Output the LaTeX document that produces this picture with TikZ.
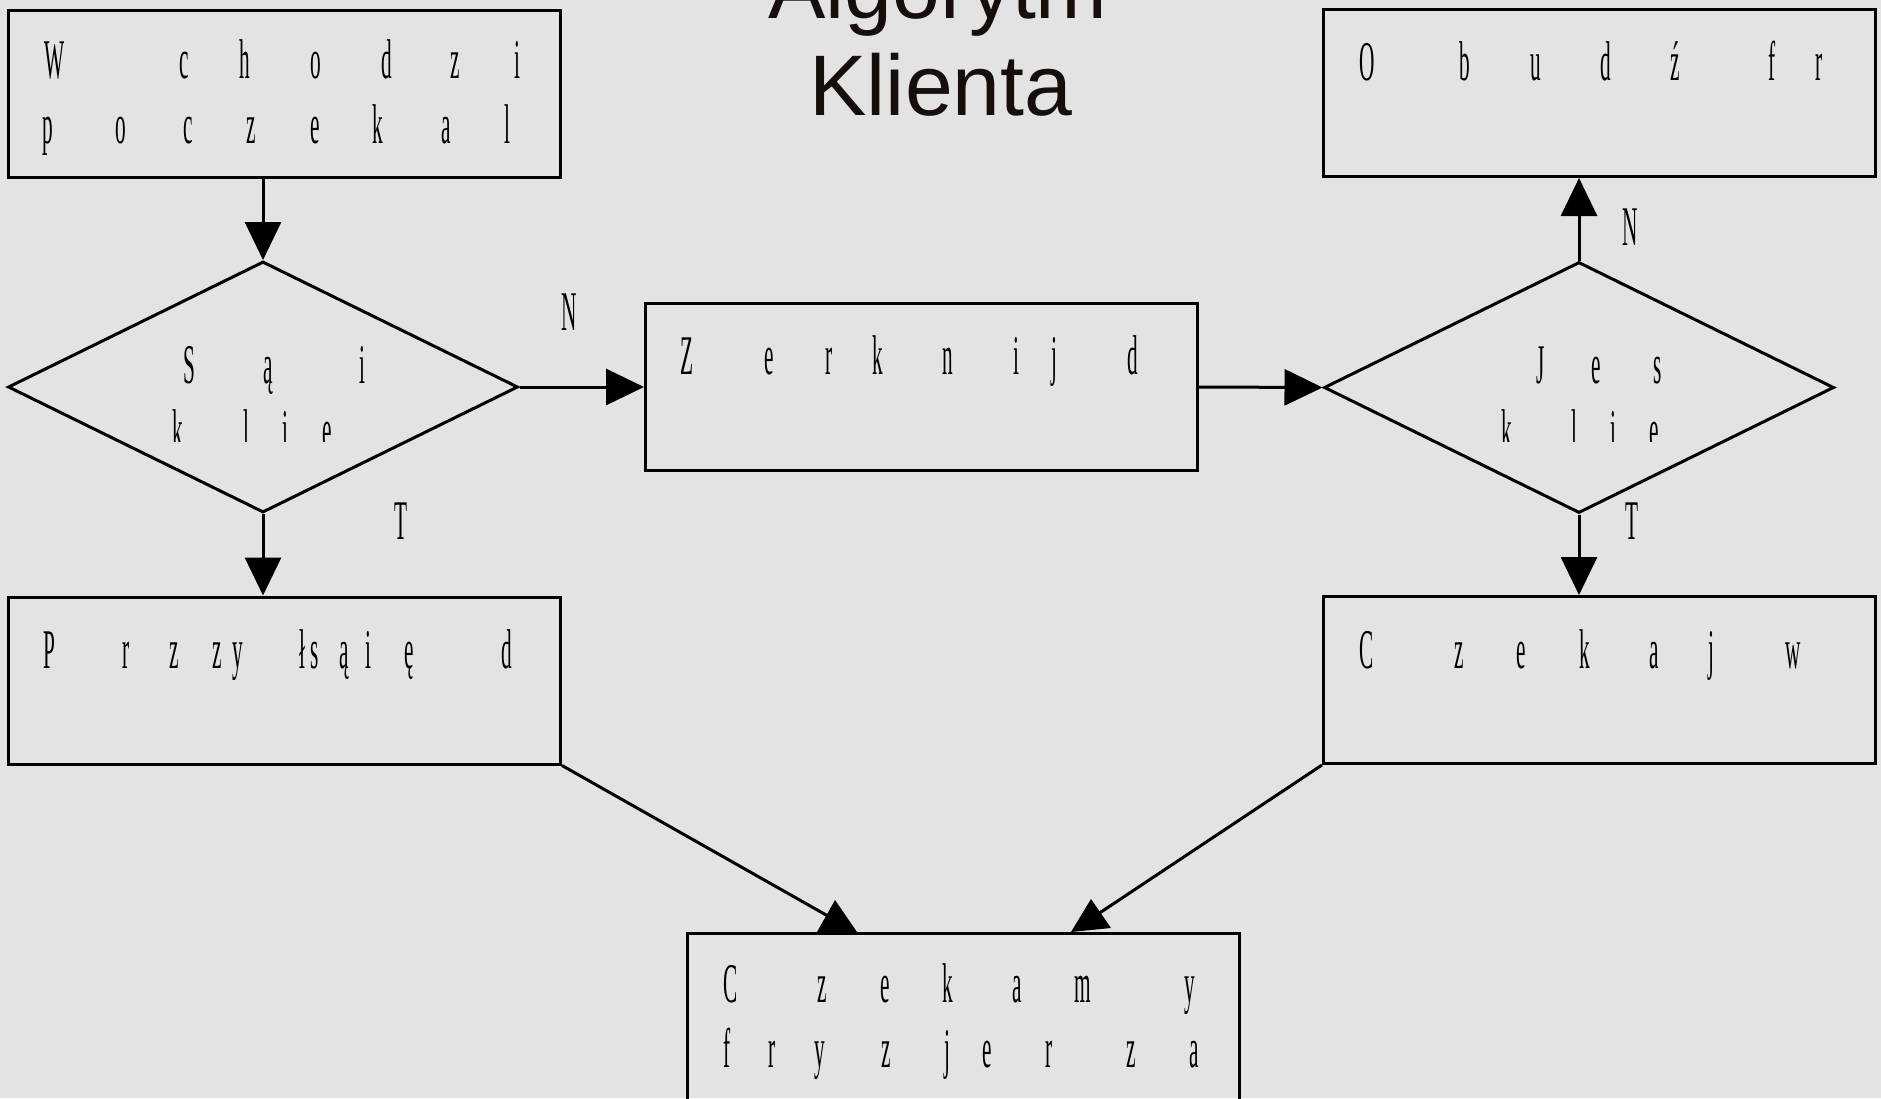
\documentclass[tikz,border=0pt]{standalone}
\usepackage{fontspec}
\usetikzlibrary{shapes.geometric,arrows.meta}
\newfontfamily\waski{Liberation Serif}[FakeStretch=0.38]
\newfontfamily\tytulowa{Liberation Sans}
\definecolor{tlo}{gray}{0.89}
\definecolor{napis}{RGB}{22,14,12}

\begin{document}
\begin{tikzpicture}
  [x=1pt,y=-1pt,line width=3pt,
   ramka/.style={draw,rectangle,minimum width=552pt,minimum height=167pt,inner sep=0pt},
   romb/.style={draw,diamond,minimum width=510pt,minimum height=251pt,inner sep=0pt},
   litera/.style={font=\waski\fontsize{56pt}{65pt}\selectfont,anchor=base,inner sep=0pt},
   tytul/.style={font=\tytulowa\fontsize{86pt}{97pt}\selectfont,text=napis,anchor=base,inner sep=0pt},
   strzalka/.style={-{Triangle[length=38pt,width=36pt]}}]
  \useasboundingbox (0,0) rectangle (1881,1098);
  \fill[tlo] (0,0) rectangle (1881,1098);

  \node[tytul] (algorytm) at (938,18) {Algorytm};
  \node[tytul] (klienta) at (941,115) {Klienta};

  % boxes and decisions
  \node[ramka] (wchodzi) at (284,93.5) {};
  \node[ramka] (obudz) at (1599.5,93) {};
  \node[ramka] (zerknij) at (921.5,387) {};
  \node[ramka] (przyjdz) at (284.5,680.5) {};
  \node[ramka] (czekaj) at (1599.5,680) {};
  \node[ramka] (czekamy) at (963.5,1017) {};
  \node[romb] (sa) at (263,387) {};
  \node[romb] (jest) at (1579,387.5) {};

  % letters, one loop per line
  \foreach \x/\z [count=\i] in {55/W,184/c,245/h,316/o,387/d,455/z,517/i}
    \node[litera] (wch1-\i) at (\x,78) {\z};
  \foreach \x/\z [count=\i] in {48/p,121/o,188/c,251/z,315/e,378/k,446/a,507/l}
    \node[litera] (wch2-\i) at (\x,143) {\z};
  \foreach \x/\z [count=\i] in {1367/O,1465/b,1536/u,1606/d,1675/ź,1772/f,1819/r}
    \node[litera] (obu-\i) at (\x,80) {\z};
  \foreach \x/\z [count=\i] in {687/Z,769/e,829/r,878/k,948/n,1016/i,1054/j,1133/d}
    \node[litera] (zer-\i) at (\x,374) {\z};
  \foreach \x/\z [count=\i] in {189/S,268/ą,362/i}
    \node[litera] (sa1-\i) at (\x,383) {\z};
  \foreach \x/\z [count=\i] in {1541/J,1596/e,1658/s}
    \node[litera] (jest1-\i) at (\x,383) {\z};
  \begin{scope}
    \clip (0,0) rectangle (1881,441);
    \foreach \x/\z [count=\i] in {178/k,246/l,285/i,327/e}
      \node[litera] (sa2-\i) at (\x,448) {\z};
    \foreach \x/\z [count=\i] in {1507/k,1574/l,1613/i,1654/e}
      \node[litera] (jest2-\i) at (\x,448) {\z};
  \end{scope}
  \foreach \x/\z [count=\i] in {49/P,126/r,174/z,217/z,238/y,302/ł,315/s,344/ą,368/i,409/ę,507/d}
    \node[litera] (prz-\i) at (\x,668) {\z};
  \foreach \x/\z [count=\i] in {1367/C,1459/z,1521/e,1585/k,1654/a,1711/j,1793/w}
    \node[litera] (cze-\i) at (\x,668) {\z};
  \foreach \x/\z [count=\i] in {731/C,822/z,885/e,948/k,1017/a,1083/m,1190/y}
    \node[litera] (czm1-\i) at (\x,1002) {\z};
  \foreach \x/\z [count=\i] in {727/f,772/r,820/y,886/z,947/j,987/e,1049/r,1131/z,1194/a}
    \node[litera] (czm2-\i) at (\x,1067) {\z};

  % yes / no labels
  \node[litera] (nSa) at (569,330) {N};
  \node[litera] (tSa) at (401,539) {T};
  \node[litera] (nJest) at (1630,245) {N};
  \node[litera] (tJest) at (1632,539) {T};

  % connectors
  \draw[strzalka] (sa.north |- wchodzi.south) -- (sa.north);
  \draw[strzalka] (sa.east) -- (zerknij.west);
  \draw[strzalka] (sa.south) -- (sa.south |- przyjdz.north);
  \draw[strzalka] (zerknij.east) -- (jest.west);
  \draw[strzalka] (jest.north) -- (jest.north |- obudz.south);
  \draw[strzalka] (jest.south) -- (jest.south |- czekaj.north);

  \coordinate (lewy) at (835,920);
  \coordinate (prawy) at (1095,916);
  \draw (przyjdz.south east) -- (lewy);
  \draw (czekaj.south west) -- (prawy);
  \fill (817,932) -- (835,900) -- (857,932) -- cycle;
  \fill (1071,932) -- (1091,899) -- (1111,928) -- cycle;
\end{tikzpicture}
\end{document}
